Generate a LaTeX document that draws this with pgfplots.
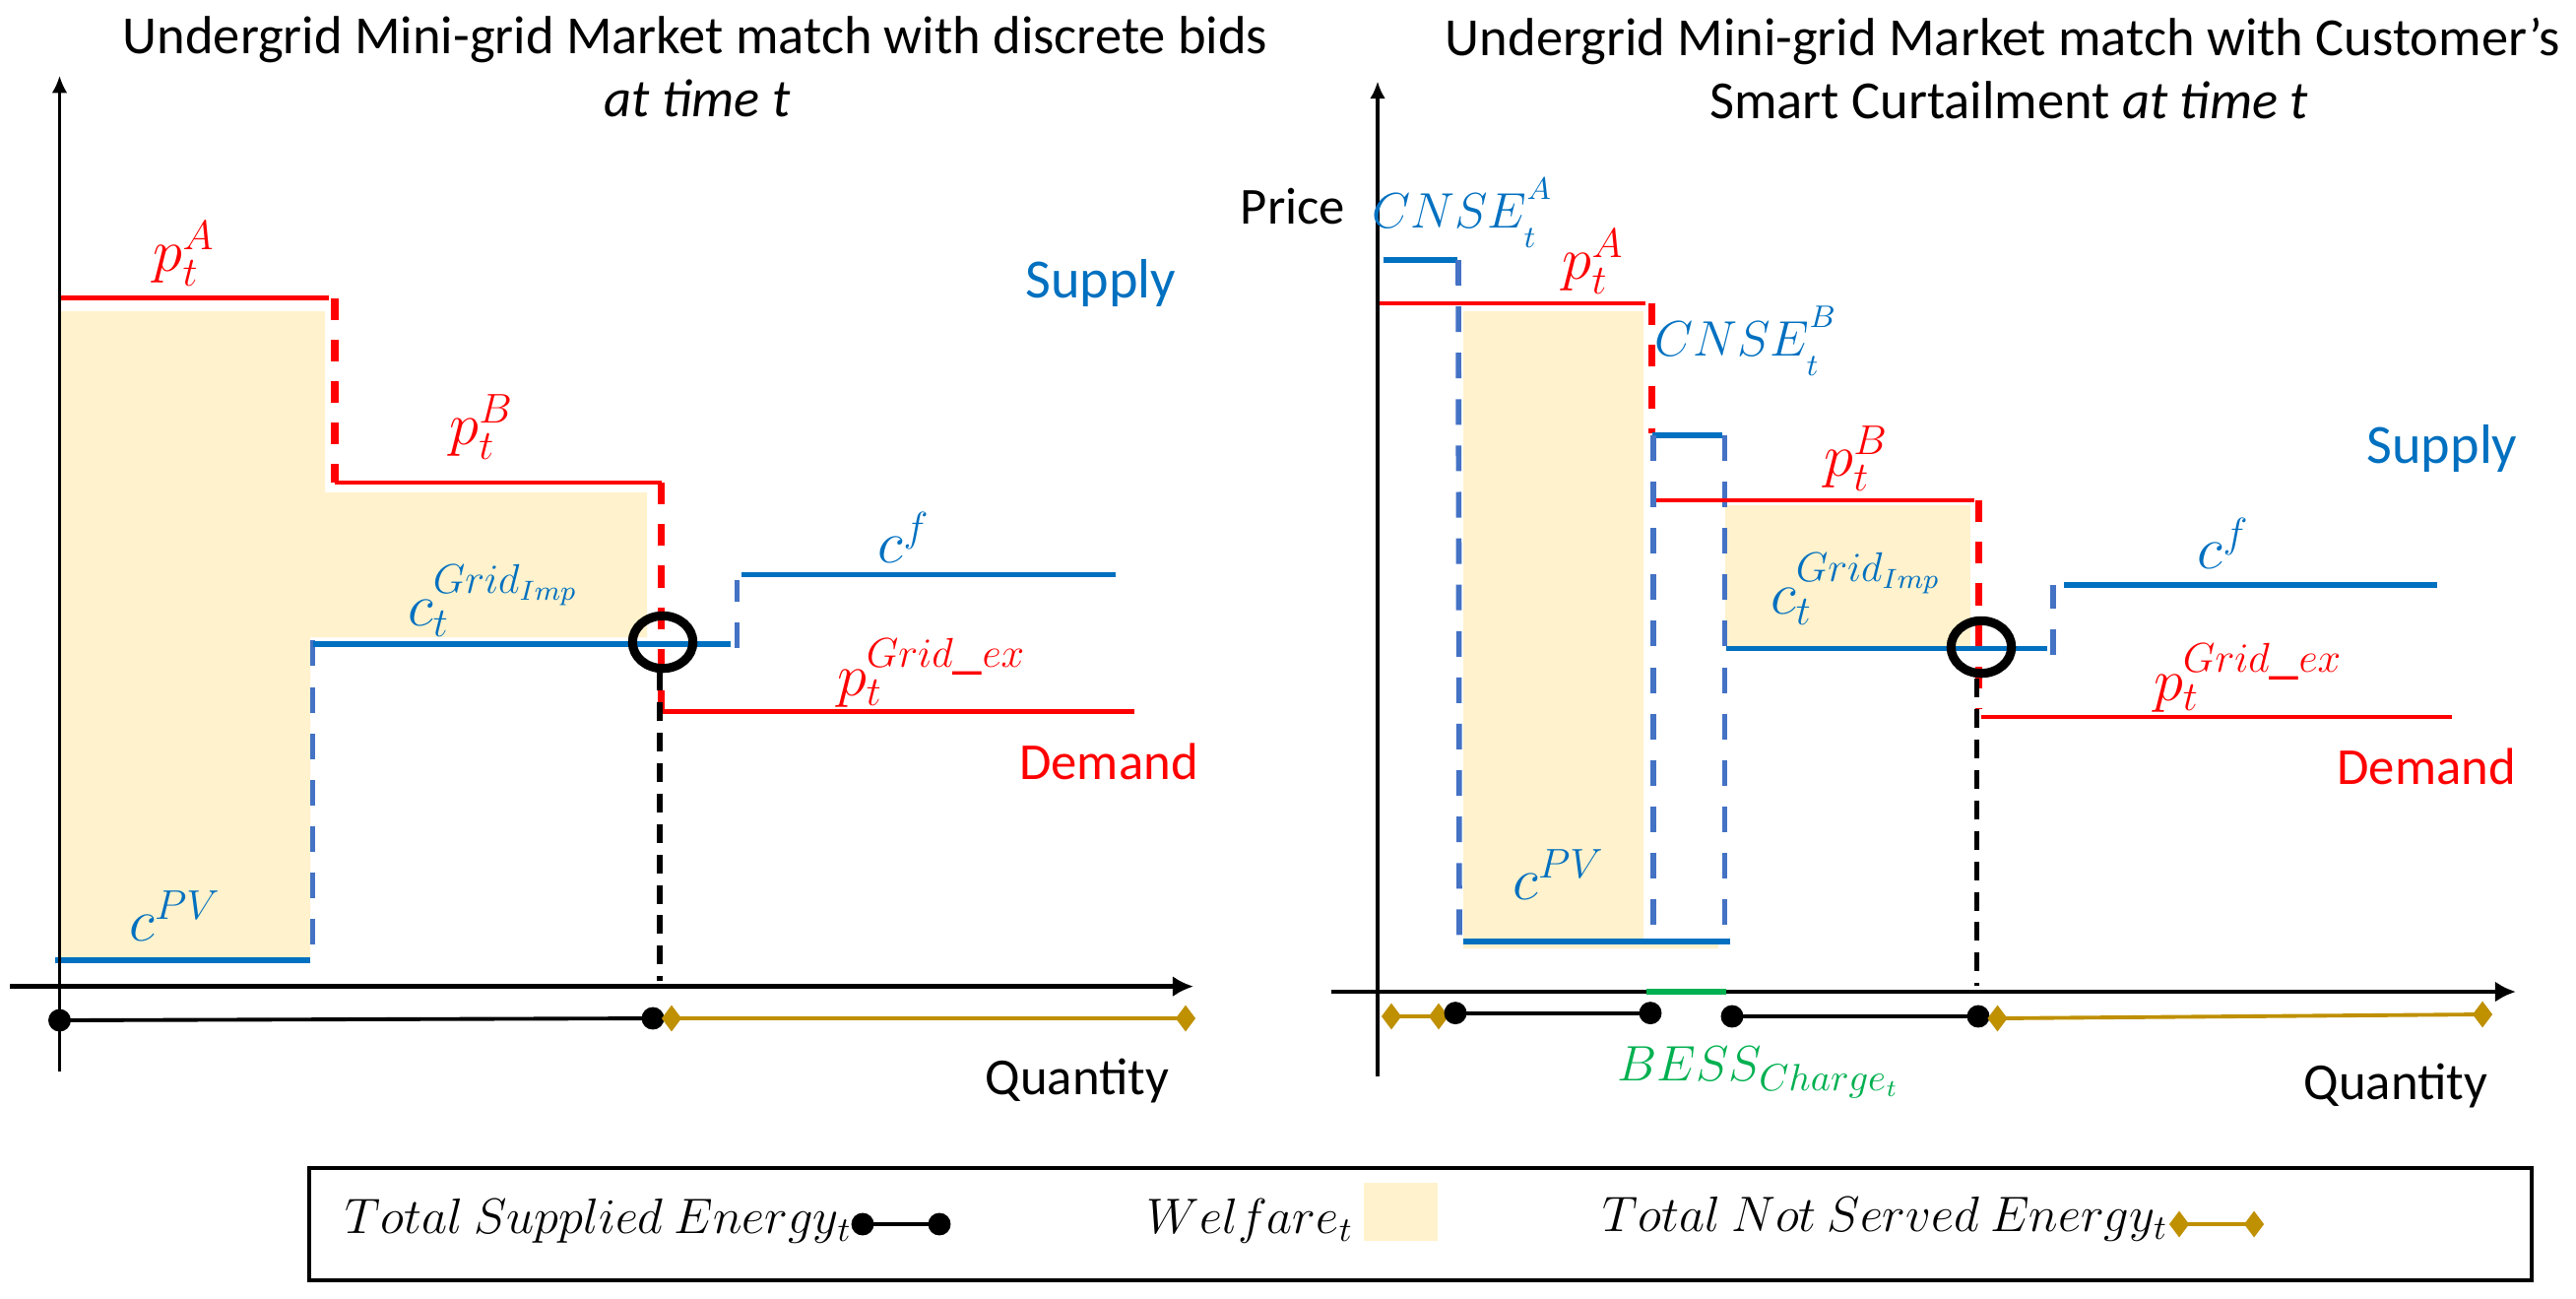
\documentclass[border=0pt]{standalone}
\usepackage{pgfplots}
\pgfplotsset{compat=1.18}
\usepackage{fontspec}
\setmainfont{Carlito}
\usetikzlibrary{arrows.meta}
\definecolor{sred}{RGB}{255,0,0}
\definecolor{sblue}{RGB}{0,112,192}
\definecolor{dblue}{RGB}{68,114,196}
\definecolor{wel}{RGB}{255,242,204}
\definecolor{gold}{RGB}{191,144,0}
\definecolor{sgreen}{RGB}{0,176,80}
\tikzset{
 redl/.style={sred, line width=1.4pt},
 redd/.style={sred, line width=2pt, dash pattern=on 6.3pt off 5.7pt},
 bluel/.style={sblue, line width=1.5pt},
 blued/.style={dblue, line width=1.6pt, dash pattern=on 7.4pt off 6pt},
 blkd/.style={black, line width=1.6pt, dash pattern=on 5.4pt off 3.4pt},
 ring/.style={only marks, mark=o, mark size=7.6pt, mark options={black, line width=2.6pt, xscale=1.15}},
 supp/.style={black, line width=1.1pt, mark=*, mark size=2.7pt},
 nse/.style={gold, line width=1.1pt, mark=diamond*, mark size=2.9pt, mark options={gold}},
 tfont/.style={font=\fontsize{15.5}{18}\selectfont},
 mfont/.style={font=\fontsize{17}{20}\selectfont, inner sep=0pt},
 cfont/.style={font=\fontsize{13.3}{16}\selectfont, inner sep=0pt},
 lfont/.style={font=\fontsize{13.8}{16}\selectfont},
}
\newcommand{\cnse}[1]{$CNSE_{\raisebox{-2pt}{$\scriptstyle t$}}^{\raisebox{3pt}{$\scriptstyle #1$}}$}
\begin{document}
\begin{tikzpicture}
\begin{axis}[scale only axis, width=26.16cm, height=13.18cm,
  xmin=0, xmax=2616, ymin=0, ymax=1318, y dir=reverse,
  hide axis, clip=false]
\path (axis cs:0,0) rectangle (axis cs:2616,1318);

% ---------- LEFT PANEL ----------
% welfare area
\addplot[fill=wel, draw=none] coordinates {(62,316)(330,316)(330,500)(657,500)(657,647)(315,647)(315,972)(62,972)};
% demand (red)
\addplot[redl] coordinates {(60.5,302.7)(334,302.7)};
\addplot[redd] coordinates {(340,302.7)(340,490)};
\addplot[redl] coordinates {(340,490)(671.5,490)};
\addplot[redd] coordinates {(671.5,490)(671.5,722)};
\addplot[redl] coordinates {(673,722.4)(1152,722.4)};
% supply (blue)
\addplot[bluel] coordinates {(56,975)(315,975)};
\addplot[blued] coordinates {(317.5,959)(317.5,647)};
\addplot[bluel] coordinates {(317.5,654)(742,654)};
\addplot[blued] coordinates {(748.6,658)(748.6,589)};
\addplot[bluel] coordinates {(753,583.5)(1133,583.5)};
% equilibrium
\addplot[blkd] coordinates {(670,682)(670,996)};
\addplot[ring] coordinates {(673,652)};
% axes
\addplot[black, line width=0.9pt, -{Latex[length=5pt,width=4.5pt]}] coordinates {(60.5,1087.5)(60.5,76.8)};
\addplot[black, line width=1.3pt, -{Latex[length=6pt,width=6pt]}] coordinates {(10,1001.6)(1212,1001.6)};
% energy bars
\addplot[supp] coordinates {(60.5,1036)(663,1034)};
\addplot[nse] coordinates {(682,1034)(1204,1034)};
% texts
\node[tfont, anchor=base] at (axis cs:706,54) {Undergrid Mini-grid Market match with discrete bids};
\node[tfont, anchor=base] at (axis cs:708,118) {\textit{at time t}};
\node[mfont, text=sred] at (axis cs:187,258) {$p_t^A$};
\node[mfont, text=sred] at (axis cs:489,434) {$p_t^B$};
\node[mfont, text=sblue] at (axis cs:501,610) {$c_t^{Grid_{Imp}}$};
\node[mfont, text=sblue] at (axis cs:918,546) {$c^f$};
\node[font=\fontsize{16}{19}\selectfont, text=sblue] at (axis cs:1118,287) {Supply};
\node[mfont, text=sred] at (axis cs:946,683) {$p_t^{Grid\_ex}$};
\node[font=\fontsize{15}{18}\selectfont, text=sred] at (axis cs:1126,773) {Demand};
\node[mfont, text=sblue] at (axis cs:178,930) {$c^{PV}$};
\node[font=\fontsize{15}{18}\selectfont] at (axis cs:1094,1097) {Quantity};

% ---------- RIGHT PANEL ----------
\addplot[fill=wel, draw=none] coordinates {(1486,316)(1669,316)(1669,955)(1745,955)(1745,963)(1486,963)};
\addplot[fill=wel, draw=none] coordinates {(1751.5,513)(2001,513)(2001,656)(1751.5,656)};
% curtailment bids
\addplot[bluel] coordinates {(1405,264)(1480,264)};
\addplot[blued] coordinates {(1481,264)(1482,960)};
\addplot[redl] coordinates {(1399,308)(1671,308)};
\addplot[redd] coordinates {(1677,308)(1677,440)};
\addplot[bluel] coordinates {(1678,442)(1749,442)};
\addplot[blued] coordinates {(1679,442)(1679,951)};
\addplot[blued] coordinates {(1751.5,442)(1751.5,951)};
\addplot[redl] coordinates {(1682,508)(2005,508)};
\addplot[redd] coordinates {(2009,508)(2009,719)};
\addplot[bluel] coordinates {(1753,658.5)(2079,658.5)};
\addplot[blued] coordinates {(2085,665)(2085,594)};
\addplot[bluel] coordinates {(2096,594)(2475,594)};
\addplot[bluel] coordinates {(1486,956)(1757,956)};
\addplot[redl] coordinates {(2012,728)(2490,728)};
\addplot[blkd] coordinates {(2007.5,689)(2007.5,1001)};
\addplot[ring] coordinates {(2012,657)};
% axes
\addplot[black, line width=0.9pt, -{Latex[length=5pt,width=4.5pt]}] coordinates {(1399,1093)(1399,82.6)};
\addplot[black, line width=1.3pt, -{Latex[length=6pt,width=6pt]}] coordinates {(1352,1007)(2555,1007)};
\addplot[sgreen, line width=1.8pt] coordinates {(1672,1007)(1753,1007)};
% energy bars
\addplot[nse] coordinates {(1413,1032)(1461,1032)};
\addplot[supp] coordinates {(1478,1028.6)(1676,1028.6)};
\addplot[supp] coordinates {(1759,1032)(2009,1032)};
\addplot[nse] coordinates {(2028.5,1034)(2521,1030)};
% texts
\node[tfont, anchor=base] at (axis cs:2034,56) {Undergrid Mini-grid Market match with Customer’s};
\node[tfont, anchor=base] at (axis cs:2040,120) {Smart Curtailment \textit{at time t}};
\node[font=\fontsize{15}{18}\selectfont, inner sep=0pt] at (axis cs:1313,210) {Price};
\node[cfont, text=sblue] at (axis cs:1485,216) {\cnse{A}};
\node[mfont, text=sred] at (axis cs:1618,266) {$p_t^A$};
\node[cfont, text=sblue] at (axis cs:1773,346) {\cnse{B}};
\node[mfont, text=sred] at (axis cs:1885,466) {$p_t^B$};
\node[mfont, text=sblue] at (axis cs:1885,598) {$c_t^{Grid_{Imp}}$};
\node[mfont, text=sblue] at (axis cs:2258,552) {$c^f$};
\node[font=\fontsize{16}{19}\selectfont, text=sblue] at (axis cs:2480,455) {Supply};
\node[mfont, text=sred] at (axis cs:2283,688) {$p_t^{Grid\_ex}$};
\node[font=\fontsize{15}{18}\selectfont, text=sred] at (axis cs:2464,778) {Demand};
\node[mfont, text=sblue] at (axis cs:1583,888) {$c^{PV}$};
\node[font=\fontsize{15}{18}\selectfont, text=sgreen, inner sep=0pt] at (axis cs:1786,1089) {$BESS_{Charge_t}$};
\node[font=\fontsize{15}{18}\selectfont] at (axis cs:2433,1102) {Quantity};

% ---------- LEGEND ----------
\draw[line width=1.3pt] (axis cs:314,1186) rectangle (axis cs:2571,1300);
\node[lfont, anchor=west, inner sep=0pt] at (axis cs:350,1240) {$Total\ Supplied\ Energy_t$};
\addplot[supp] coordinates {(876,1243)(954,1243)};
\node[lfont, anchor=west, inner sep=0pt] at (axis cs:1164,1240) {$Welfare_t$};
\addplot[fill=wel, draw=none] coordinates {(1385,1201)(1460,1201)(1460,1260)(1385,1260)};
\node[lfont, anchor=west, inner sep=0pt] at (axis cs:1627,1238) {$Total\ Not\ Served\ Energy_t$};
\addplot[nse] coordinates {(2213,1243)(2289,1243)};
\end{axis}
\end{tikzpicture}
\end{document}
